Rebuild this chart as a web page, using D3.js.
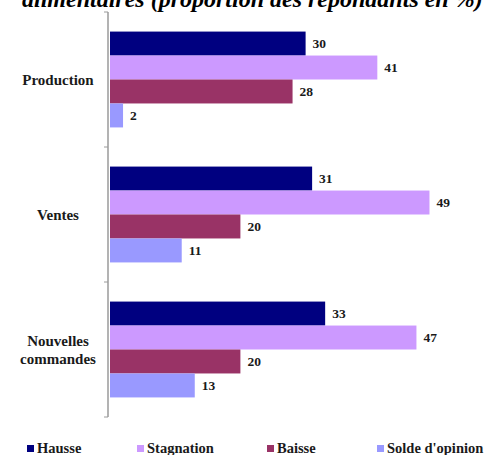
<!DOCTYPE html>
<html>
<head>
<meta charset="utf-8">
<script src="https://cdn.jsdelivr.net/npm/d3@7"></script>
<style>
  body { margin: 0; background: #fff; }
</style>
</head>
<body>
<div id="chart"></div>
<script>
// data
const categories = ["Production", "Ventes", "Nouvelles commandes"]
const series = ["Hausse", "Stagnation", "Baisse", "Solde d'opinion"]
const hausse = [30, 31, 33]
const stagnation = [41, 49, 47]
const baisse = [28, 20, 20]
const solde = [2, 11, 13]
const colors = ["#000080", "#cc99ff", "#993366", "#9999ff"]

const width = 488, height = 455
const values = [hausse, stagnation, baisse, solde]
const serif = "'Liberation Serif', 'Times New Roman', 'DejaVu Serif', serif"

const svg = d3.select("#chart").append("svg")
    .attr("width", width)
    .attr("height", height)
    .attr("font-family", serif)
    .attr("font-weight", "bold")
    .attr("fill", "#1a1a1a")

// title, cut off at the top like in the source
svg.append("text")
    .attr("x", 22)
    .attr("y", 7)
    .attr("font-style", "italic")
    .attr("font-size", 24)
    .attr("fill", "#000")
    .text("alimentaires (proportion des répondants en %)")

const x = d3.scaleLinear().domain([0, 50]).range([110, 436])
const y = d3.scaleBand().domain(categories).range([12, 417])
    .paddingInner(0.29).paddingOuter(0.145)
const ySub = d3.scaleBand().domain(series).range([0, y.bandwidth()])

// axis line and boundary ticks
const axisX = 108
svg.append("line")
    .attr("x1", axisX).attr("x2", axisX)
    .attr("y1", 12).attr("y2", 417)
    .attr("stroke", "#9a9a9a").attr("stroke-width", 1.5)

const bounds = [12].concat(categories.map(c => y(c) - y.paddingOuter() * y.step() + y.step()))
svg.selectAll("line.tick").data(bounds).enter().append("line")
    .attr("class", "tick")
    .attr("x1", axisX - 4).attr("x2", axisX)
    .attr("y1", d => d).attr("y2", d => d)
    .attr("stroke", "#9a9a9a").attr("stroke-width", 1)

// bars
categories.forEach((cat, i) => {
    let g = svg.append("g").attr("transform", `translate(0, ${y(cat)})`)
    series.forEach((s, j) => {
        let v = values[j][i]
        g.append("rect")
            .attr("x", x(0))
            .attr("y", ySub(s))
            .attr("width", x(v) - x(0))
            .attr("height", ySub.bandwidth())
            .attr("fill", colors[j])
        g.append("text")
            .attr("x", x(v) + 7)
            .attr("y", ySub(s) + ySub.bandwidth() / 2)
            .attr("dy", "0.35em")
            .attr("font-size", 13.5)
            .text(v)
    })

    // category label
    let words = cat === "Nouvelles commandes" ? ["Nouvelles", "commandes"] : [cat]
    let lab = svg.append("text")
        .attr("text-anchor", "middle")
        .attr("font-size", 15)
    words.forEach((w, k) => {
        lab.append("tspan")
            .attr("x", 58)
            .attr("y", y(cat) + y.bandwidth() / 2 + (k - (words.length - 1) / 2) * 18)
            .attr("dy", "0.35em")
            .text(w)
    })
})

// legend
const legendX = [27, 137, 267, 377]
series.forEach((s, j) => {
    svg.append("rect")
        .attr("x", legendX[j]).attr("y", 445)
        .attr("width", 7).attr("height", 7)
        .attr("fill", colors[j])
    svg.append("text")
        .attr("x", legendX[j] + 10)
        .attr("y", 453)
        .attr("font-size", 14.5)
        .text(s)
})
</script>
</body>
</html>
